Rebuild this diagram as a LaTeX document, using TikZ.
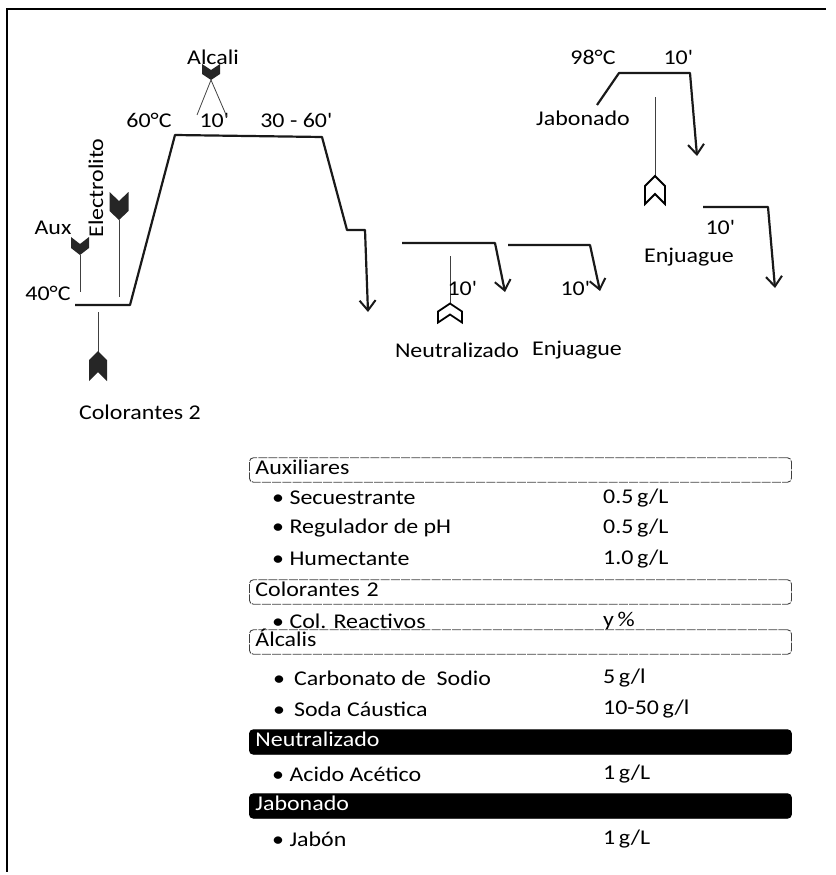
\documentclass[tikz,border=0pt]{standalone}
\usepackage{fontspec}
\setmainfont{Carlito}[FakeStretch=1.14]
\usetikzlibrary{arrows.meta}
\tikzset{
  frameline/.style={line width=1.4pt, black},
  proc/.style={line width=2.2pt, black!90, line join=round},
  procarrow/.style={proc, -{Straight Barb[length=10pt,width=16pt,line width=2pt]}},
  feed/.style={line width=0.8pt, black!75},
  lbl/.style={font=\fontsize{21}{25}\selectfont, inner sep=0pt},
  hdr/.style={draw=black!75, line width=0.9pt, dash pattern=on 9pt off 1.2pt, rounded corners=4pt, anchor=west,
    text width=530pt, align=left, inner xsep=6pt, inner ysep=2pt,
    text height=14.5pt, text depth=6pt, font=\fontsize{21}{25}\selectfont},
  hdrdark/.style={hdr, solid, fill=black, draw=black, text=white},
  rowtxt/.style={lbl, anchor=west},
  pics/chevdown/.style n args={3}{code={
    \fill[black!85] (-#1/2,-#2/2) -- (0,-#2/2+#3) -- (#1/2,-#2/2) -- (#1/2,#2/2-#3)
      -- (0,#2/2) -- (-#1/2,#2/2-#3) -- cycle;}},
  pics/chevup/.style n args={3}{code={
    \fill[black!85] (-#1/2,#2/2) -- (0,#2/2-#3) -- (#1/2,#2/2) -- (#1/2,-#2/2+#3)
      -- (0,-#2/2) -- (-#1/2,-#2/2+#3) -- cycle;}},
  pics/chevuphollow/.style n args={3}{code={
    \draw[fill=white, line width=1.8pt, line join=miter] (-#1/2,#2/2) -- (0,#2/2-#3) -- (#1/2,#2/2) -- (#1/2,-#2/2+#3)
      -- (0,-#2/2) -- (-#1/2,-#2/2+#3) -- cycle;}},
}
\begin{document}
\begin{tikzpicture}[x=1pt, y=-1pt]
\useasboundingbox (0,0) rectangle (835,875);

% frame
\coordinate (f1) at (7,9);
\coordinate (f2) at (826,9);
\coordinate (f3) at (7,872);
\draw[frameline] (f2) -- (f1) -- (f3);

% ---------- main dyeing curve ----------
\coordinate (a0) at (75,305);
\coordinate (a1) at (130,305);
\coordinate (a2) at (175,135);
\coordinate (a3) at (322,137);
\coordinate (a4) at (347,230);
\coordinate (a5) at (365,230);
\coordinate (a6) at (368,312);
\draw[procarrow] (a0) -- (a1) -- (a2) -- (a3) -- (a4) -- (a5) -- (a6);

\node[lbl] (t40) at (48,293) {40°C};
\node[lbl] (t60) at (149,120) {60°C};
\node[lbl] (t10a) at (214,120) {10\textquotesingle};
\node[lbl] (t3060) at (296,120) {30 - 60\textquotesingle};
\node[lbl] (tAlcali) at (213,57) {Alcali};

% Alcali
\pic at (211,72) {chevdown={18}{16}{6}};
\coordinate (alc) at (211,80);
\coordinate (alcL) at (197,115);
\coordinate (alcR) at (227,117);
\draw[feed] (alcL) -- (alc) -- (alcR);

% Aux
\node[lbl] (tAux) at (53,228) {Aux};
\pic at (80,246) {chevdown={18}{18}{7}};
\coordinate (aux1) at (80,255);
\coordinate (aux2) at (80,292);
\draw[feed] (aux1) -- (aux2);

% Electrolito
\node[lbl, rotate=90] (tElec) at (96,188) {Electrolito};
\pic at (119,206) {chevdown={19}{28}{9}};
\coordinate (el1) at (119,220);
\coordinate (el2) at (119,297);
\draw[feed] (el1) -- (el2);

% Colorantes 2
\coordinate (co1) at (98,312);
\coordinate (co2) at (98,353);
\draw[feed] (co1) -- (co2);
\pic at (98,366) {chevup={18}{30}{9}};
\node[lbl] (tCol) at (140,412) {Colorantes 2};

% ---------- Neutralizado ----------
\coordinate (n0) at (402,243);
\coordinate (n1) at (495,243);
\coordinate (n2) at (505,292);
\draw[procarrow] (n0) -- (n1) -- (n2);
\coordinate (nf1) at (450,256);
\coordinate (nf2) at (450,303);
\draw[feed] (nf1) -- (nf2);
\pic at (450,313) {chevuphollow={24}{19}{8}};
\node[lbl] (t10n) at (462,288) {10\textquotesingle};
\node[lbl] (tNeu) at (457,350) {Neutralizado};

% ---------- Enjuague 1 ----------
\coordinate (e0) at (508,245);
\coordinate (e1) at (590,245);
\coordinate (e2) at (600,291);
\node[lbl] (t10e) at (575,288) {10\textquotesingle};
\draw[procarrow] (e0) -- (e1) -- (e2);
\node[lbl] (tEnj1) at (577,350) {Enjuague};

% ---------- Jabonado ----------
\coordinate (j0) at (597,105);
\coordinate (j1) at (619,73);
\coordinate (j2) at (690,73);
\coordinate (j3) at (697,156);
\draw[procarrow] (j0) -- (j1) -- (j2) -- (j3);
\node[lbl] (t98) at (593,57) {98°C};
\node[lbl] (t10j) at (678,57) {10\textquotesingle};
\node[lbl] (tJab) at (583,118) {Jabonado};
\coordinate (jf1) at (655,97);
\coordinate (jf2) at (655,176);
\draw[feed] (jf1) -- (jf2);
\pic at (655,190) {chevuphollow={20}{28}{10}};

% ---------- Enjuague 2 ----------
\coordinate (g0) at (703,207);
\coordinate (g1) at (768,207);
\coordinate (g2) at (775,288);
\draw[procarrow] (g0) -- (g1) -- (g2);
\node[lbl] (t10g) at (720,227) {10\textquotesingle};
\node[lbl] (tEnj2) at (689,257) {Enjuague};

% ---------- table ----------
\node[hdr] (hAux) at (249,470) {Auxiliares};
\node[rowtxt] (r1) at (272,498) {• Secuestrante};
\node[rowtxt] (v1) at (603,498) {0.5\,g/L};
\node[rowtxt] (r2) at (272,528) {• Regulador de pH};
\node[rowtxt] (v2) at (603,528) {0.5\,g/L};
\node[rowtxt] (r3) at (272,559) {• Humectante};
\node[rowtxt] (v3) at (603,559) {1.0\,g/L};

\node[hdr] (hCol) at (249,592) {Colorantes 2};
\node[rowtxt] (r4) at (272,621) {• Col. Reactivos};
\node[rowtxt] (v4) at (603,621) {y\,\%};

\node[hdr] (hAlc) at (249,642) {Álcalis};
\node[rowtxt] (r5) at (273,678) {•\ \,Carbonato de\ \ Sodio};
\node[rowtxt] (v5) at (603,678) {5\,g/l};
\node[rowtxt] (r6) at (273,709) {•\ \,Soda Cáustica};
\node[rowtxt] (v6) at (603,709) {10-50\,g/l};

\node[hdrdark] (hNeu) at (249,742) {Neutralizado};
\node[rowtxt] (r7) at (272,774) {• Acido Acético};
\node[rowtxt] (v7) at (603,774) {1\,g/L};

\node[hdrdark] (hJab) at (249,806) {Jabonado};
\node[rowtxt] (r8) at (272,839) {• Jabón};
\node[rowtxt] (v8) at (603,839) {1\,g/L};
\end{tikzpicture}
\end{document}
